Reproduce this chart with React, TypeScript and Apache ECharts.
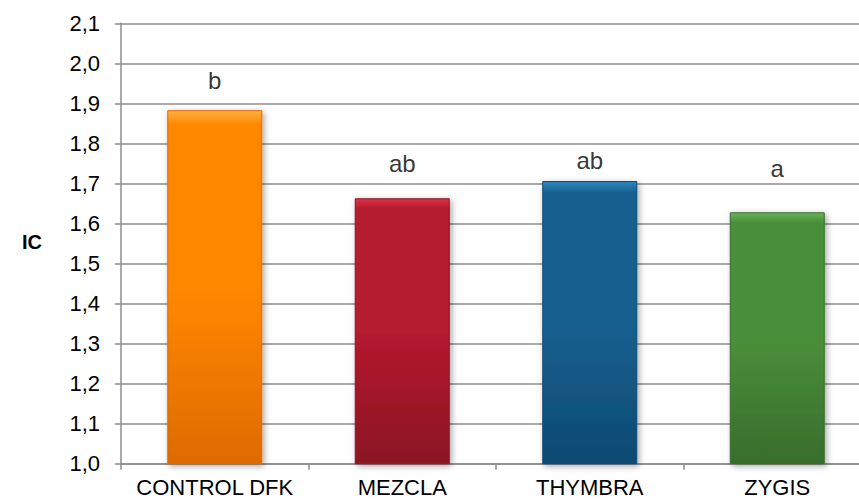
import React, { useEffect, useRef } from "react";
import * as echarts from "echarts";

const categories = ["CONTROL DFK", "MEZCLA", "THYMBRA", "ZYGIS"];
const icValues = [1.883, 1.663, 1.706, 1.628];
const letters = ["b", "ab", "ab", "a"];
const letterLevels = [1.957, 1.751, 1.758, 1.737];
const barTop = ["#ffb040", "#d8344a", "#2f86bf", "#66b354"];
const barMid = ["#ff8800", "#b51a2e", "#16608f", "#4a8f3a"];
const barBottom = ["#df6a00", "#8c1424", "#0e4a72", "#386d2c"];
const yTicks = { min: 1.0, max: 2.1, interval: 0.1 };

const FONT = "'Liberation Sans', Arial, sans-serif";

export default function App() {
  const ref = useRef<HTMLDivElement>(null);
  useEffect(() => {
    if (!ref.current) return;
    const chart = echarts.init(ref.current, null, { renderer: "svg" });
    const barData = icValues.map((v, i) => ({
      value: v,
      itemStyle: {
        color: {
          type: "linear",
          x: 0,
          y: 0,
          x2: 0,
          y2: 1,
          colorStops: [
            { offset: 0, color: barTop[i] },
            { offset: 0.04, color: barMid[i] },
            { offset: 0.5, color: barMid[i] },
            { offset: 1, color: barBottom[i] },
          ],
        },
        borderColor: barBottom[i],
        borderWidth: 1,
        shadowBlur: 6,
        shadowOffsetX: 2,
        shadowOffsetY: 2,
        shadowColor: "rgba(0,0,0,0.35)",
      },
    }));
    chart.setOption({
      animation: false,
      backgroundColor: "#ffffff",
      grid: {
        left: 121,
        top: 23.3,
        height: 440.4,
        width: 750,
        outerBoundsMode: "none",
        containLabel: false,
      },
      xAxis: {
        type: "category",
        data: categories,
        boundaryGap: true,
        axisLine: { show: true, lineStyle: { color: "#8c8c8c", width: 1.5 } },
        axisTick: { show: true, length: 6, lineStyle: { color: "#8c8c8c", width: 1.5 } },
        axisLabel: {
          color: "#000",
          fontSize: 22,
          fontFamily: FONT,
          margin: 13,
          interval: 0,
          hideOverlap: false,
        },
      },
      yAxis: {
        type: "value",
        min: yTicks.min,
        max: yTicks.max,
        interval: yTicks.interval,
        axisLine: { show: true, lineStyle: { color: "#8c8c8c", width: 1.5 } },
        axisTick: { show: true, length: 6, lineStyle: { color: "#8c8c8c", width: 1.5 } },
        splitLine: { show: true, lineStyle: { color: "#8c8c8c", width: 1.5 } },
        axisLabel: {
          color: "#000",
          fontSize: 22,
          fontFamily: FONT,
          margin: 21,
          formatter: (v: number) => v.toFixed(1).replace(".", ","),
        },
      },
      series: [
        {
          type: "bar",
          data: barData,
          barWidth: 95,
          z: 2,
        },
        {
          type: "scatter",
          data: letterLevels,
          symbolSize: 0,
          itemStyle: { color: "transparent" },
          z: 3,
          label: {
            show: true,
            position: "inside",
            color: "#000",
            textBorderWidth: 0,
            fontSize: 24,
            fontFamily: FONT,
            formatter: (p: any) => letters[p.dataIndex],
          },
        },
      ],
      graphic: [
        {
          type: "text",
          x: 32,
          y: 242,
          style: {
            text: "IC",
            fontSize: 20,
            fontWeight: "bold",
            fontFamily: FONT,
            fill: "#000",
            textAlign: "center",
            textVerticalAlign: "middle",
          },
        },
      ],
    });
    return () => chart.dispose();
  }, []);
  return (
    <div
      ref={ref}
      style={{ position: "fixed", left: 0, top: 0, width: 859, height: 502 }}
    />
  );
}
